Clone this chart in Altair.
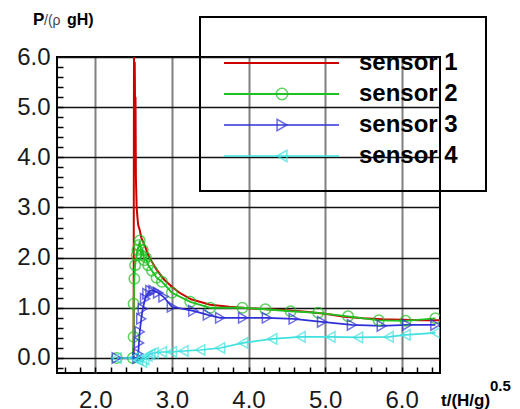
import altair as alt
import pandas as pd

sensors = ["sensor 1", "sensor 2", "sensor 3", "sensor 4"]
colors = ["#cc0000", "#1fc01f", "#3030d8", "#3fe0e0"]
line_widths = [2.0, 1.6, 1.6, 2.0]
marker_shapes = ["triangle-right", "circle", "triangle-right", "triangle-left"]

x_major = [2.0, 3.0, 4.0, 5.0, 6.0]
y_major = [0.0, 1.0, 2.0, 3.0, 4.0, 5.0, 6.0]
x_minor = [1.6, 1.8, 2.0, 2.2, 2.4, 2.6, 2.8, 3.0, 3.2, 3.4, 3.6, 3.8, 4.0, 4.2, 4.4,
           4.6, 4.8, 5.0, 5.2, 5.4, 5.6, 5.8, 6.0, 6.2, 6.4]
y_minor = [-0.2, 0.0, 0.2, 0.4, 0.6, 0.8, 1.0, 1.2, 1.4, 1.6, 1.8, 2.0, 2.2, 2.4, 2.6,
           2.8, 3.0, 3.2, 3.4, 3.6, 3.8, 4.0, 4.2, 4.4, 4.6, 4.8, 5.0, 5.2, 5.4, 5.6,
           5.8]

s1_t = [2.28, 2.50, 2.505, 2.51, 2.515, 2.52, 2.525, 2.53, 2.54, 2.55, 2.56, 2.58,
        2.60, 2.65, 2.70, 2.80, 2.90, 3.00, 3.10, 3.25, 3.50, 3.75, 4.00, 4.25,
        4.50, 4.75, 5.00, 5.25, 5.50, 5.75, 6.00, 6.25, 6.50]
s1_p = [0.0, 0.0, 6.0, 5.6, 5.9, 4.8, 5.2, 3.6, 3.0, 2.8, 2.65, 2.55,
        2.4, 2.22, 2.02, 1.76, 1.56, 1.42, 1.3, 1.17, 1.06, 1.02, 0.99, 0.97,
        0.95, 0.92, 0.88, 0.82, 0.79, 0.77, 0.76, 0.75, 0.75]

s2_t = [2.28, 2.49, 2.50, 2.50, 2.51, 2.52, 2.54, 2.55, 2.57, 2.58, 2.60, 2.62,
        2.64, 2.66, 2.69, 2.74, 2.80, 2.87, 3.00, 3.24, 3.50, 3.92, 4.22, 4.55,
        4.91, 5.30, 5.70, 6.05, 6.44]
s2_p = [0.0, 0.0, 0.42, 1.08, 1.58, 1.85, 2.05, 2.15, 2.25, 2.34, 2.05, 2.15,
        1.95, 2.0, 1.85, 1.74, 1.6, 1.52, 1.3, 1.12, 1.0, 1.0, 0.97, 0.93,
        0.9, 0.83, 0.75, 0.74, 0.79]

s3_t = [2.28, 2.55, 2.56, 2.57, 2.58, 2.60, 2.62, 2.65, 2.68, 2.72, 2.76, 2.82,
        2.89, 3.00, 3.28, 3.47, 3.63, 3.93, 4.24, 4.59, 4.96, 5.35, 5.74, 6.07,
        6.44]
s3_p = [0.0, 0.0, 0.08, 0.3, 0.52, 0.78, 0.98, 1.18, 1.28, 1.34, 1.34, 1.3,
        1.22, 1.02, 0.94, 0.86, 0.8, 0.8, 0.8, 0.78, 0.72, 0.66, 0.64, 0.66,
        0.66]

s4_t = [2.28, 2.50, 2.56, 2.61, 2.64, 2.68, 2.72, 2.76, 2.87, 3.00, 3.15, 3.37,
        3.63, 3.93, 4.31, 4.68, 5.07, 5.43, 5.83, 6.05, 6.44]
s4_p = [0.0, 0.0, -0.04, -0.08, -0.03, 0.04, 0.08, 0.1, 0.12, 0.12, 0.14, 0.16,
        0.2, 0.3, 0.38, 0.42, 0.42, 0.41, 0.42, 0.46, 0.5]

rows = []
for name, ts, ps in zip(sensors, [s1_t, s2_t, s3_t, s4_t], [s1_p, s2_p, s3_p, s4_p]):
    for i, (t, p) in enumerate(zip(ts, ps)):
        rows.append({"sensor": name, "t": t, "p": p, "i": i})
df = pd.DataFrame(rows)

FONT = "Liberation Sans"
xs = alt.Scale(domain=[1.5, 6.5], nice=False, zero=False)
ys = alt.Scale(domain=[-0.3, 6.0], nice=False, zero=False)
cs = alt.Scale(domain=sensors, range=colors)
sws = alt.Scale(domain=sensors, range=line_widths)
shs = alt.Scale(domain=sensors, range=marker_shapes)

base = alt.Chart(df)

lines = base.mark_line(clip=True).encode(
    x=alt.X("t:Q", scale=xs, axis=alt.Axis(
        values=x_major, format=".1f", grid=True, gridColor="#808080", gridWidth=2,
        ticks=False, tickSize=0, domain=False, labelFontSize=24, labelFont=FONT,
        labelColor="#1a1a1a", labelPadding=15, title=None, orient="bottom")),
    y=alt.Y("p:Q", scale=ys, axis=alt.Axis(
        values=y_major, format=".1f", grid=True, gridColor="#111111", gridWidth=1.5,
        ticks=False, tickSize=0, domain=False, labelFontSize=24, labelFont=FONT,
        labelColor="#1a1a1a", labelPadding=7, title=None, orient="left")),
    color=alt.Color("sensor:N", scale=cs, legend=None),
    strokeWidth=alt.StrokeWidth("sensor:N", scale=sws, legend=None),
    order=alt.Order("i:Q"),
)

points = base.transform_filter(alt.datum.sensor != "sensor 1").mark_point(
    filled=False, size=110, strokeWidth=1.5, clip=True
).encode(
    x=alt.X("t:Q", scale=xs, axis=None),
    y=alt.Y("p:Q", scale=ys, axis=None),
    color=alt.Color("sensor:N", scale=cs, legend=None),
    shape=alt.Shape("sensor:N", scale=shs, legend=None),
)

minor = base.mark_point(opacity=0).encode(
    x=alt.X("t:Q", scale=xs, axis=alt.Axis(
        values=x_minor, labels=False, grid=False, domain=False, ticks=True,
        tickSize=6, tickWidth=1.5, tickColor="black", offset=-6, orient="bottom",
        title=None)),
    y=alt.Y("p:Q", scale=ys, axis=alt.Axis(
        values=y_minor, labels=False, grid=False, domain=False, ticks=True,
        tickSize=6, tickWidth=1.5, tickColor="black", offset=-6, orient="left",
        title=None)),
)

legend_df = pd.DataFrame({"sensor": sensors, "k": [0, 1, 2, 3]})
leg = alt.Chart(legend_df).transform_calculate(ly="6 + 31*datum.k")
ly = alt.Y("ly:Q", scale=None, axis=None)

leg_lines = leg.mark_rule().encode(
    x=alt.value(167), x2=alt.value(282), y=ly,
    color=alt.Color("sensor:N", scale=cs, legend=None),
    strokeWidth=alt.StrokeWidth("sensor:N", scale=sws, legend=None),
)
leg_pts = leg.transform_filter(alt.datum.k > 0).mark_point(
    filled=False, size=130, strokeWidth=1.5
).encode(
    x=alt.value(225), y=ly,
    color=alt.Color("sensor:N", scale=cs, legend=None),
    shape=alt.Shape("sensor:N", scale=shs, legend=None),
)
leg_text = leg.mark_text(
    align="left", baseline="middle", fontSize=24, fontWeight="bold", font=FONT,
    color="black"
).encode(x=alt.value(302), y=ly, text="sensor:N")

one = alt.Data(values=[{"a": 1}])
leg_box = alt.Chart(one).mark_rect(
    fillOpacity=0, stroke="black", strokeWidth=2
).encode(x=alt.value(143), x2=alt.value(429), y=alt.value(-40), y2=alt.value(134))

def txt(s, x, y, size, weight="bold", color="black"):
    return alt.Chart(one).mark_text(
        align="left", baseline="alphabetic", fontSize=size, fontWeight=weight,
        font=FONT, color=color
    ).encode(x=alt.value(x), y=alt.value(y), text=alt.value(s))

yt1 = txt("P", -24, -32, 17)
yt2 = txt("/(ρ", -13, -32, 14, "normal", "#444444")
yt3 = txt("gH)", 10, -32, 16)
xt1 = txt("t/(H/g)", 384, 349, 17)
xt2 = txt("0.5", 433, 334, 15)

chart = alt.layer(
    minor, lines, points, leg_box, leg_lines, leg_pts, leg_text,
    yt1, yt2, yt3, xt1, xt2
).resolve_axis(x="independent", y="independent").properties(
    width=383, height=316,
    autosize=alt.AutoSizeParams(type="none"),
    padding={"left": 49, "top": 49, "right": 72, "bottom": 36},
).configure_view(stroke="black", strokeWidth=2)

chart.save("out.html", embed_options={"renderer": "svg", "actions": False})
